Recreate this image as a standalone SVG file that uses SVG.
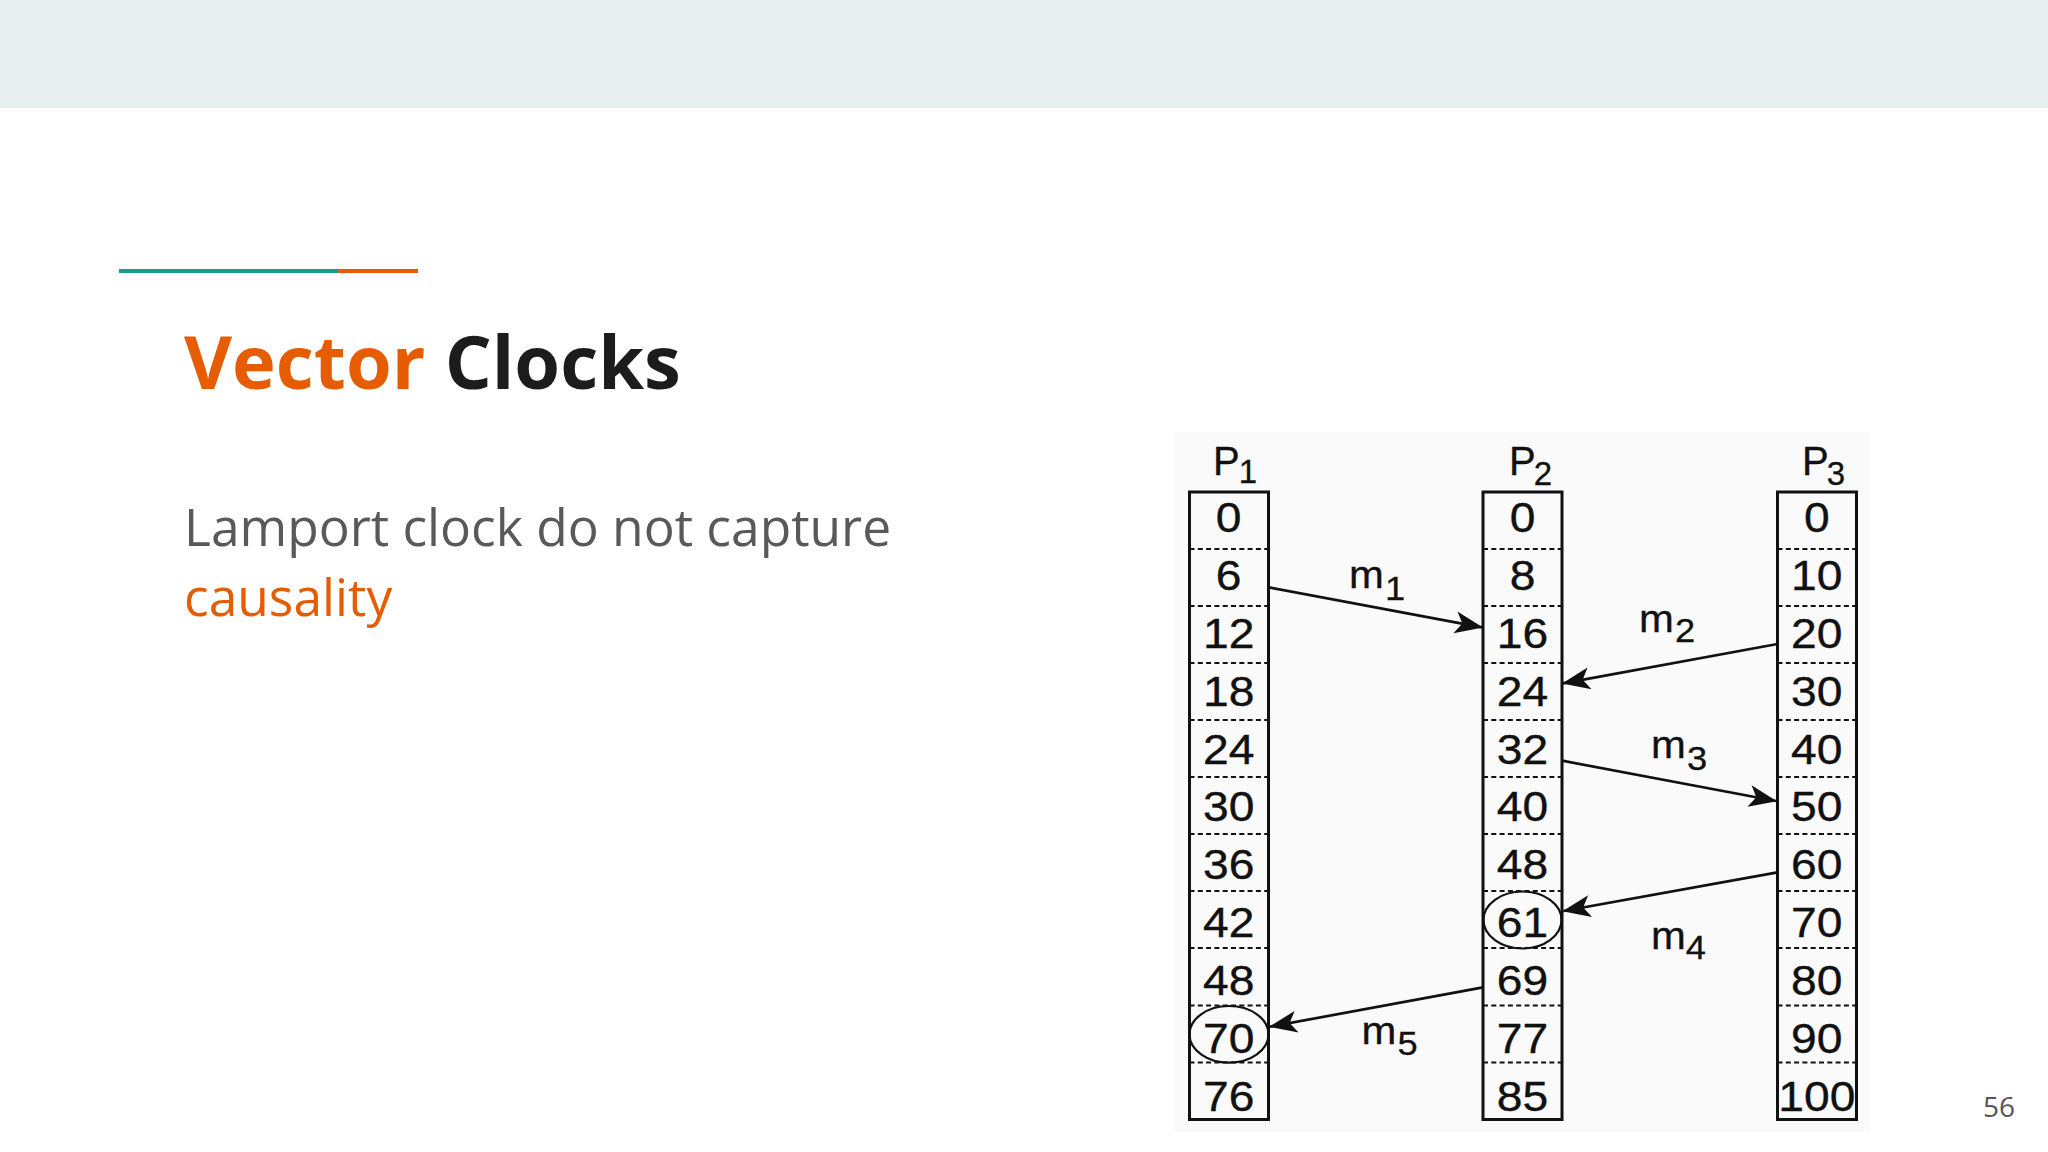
<svg xmlns="http://www.w3.org/2000/svg" width="2048" height="1152" viewBox="0 0 2048 1152">
<style>
.title{font-family:"Open Sans","Liberation Sans",sans-serif;font-weight:700;font-size:74px}
.body{font-family:"Open Sans","Liberation Sans",sans-serif;font-size:51.5px}
.num{font-family:"Liberation Sans",Arial,sans-serif;font-size:42px;fill:#111;stroke:#111;stroke-width:0.35;text-anchor:middle}
.lbl{font-family:"Liberation Sans",Arial,sans-serif;font-size:40px;fill:#111;stroke:#111;stroke-width:0.3}
.mlbl{font-family:"Liberation Sans",Arial,sans-serif;font-size:38px;fill:#111;stroke:#111;stroke-width:0.3}
.sub{font-size:33px}
.col{fill:none;stroke:#111;stroke-width:3}
.div{stroke:#111;stroke-width:2.2;stroke-dasharray:5 3.3}
.circ{fill:none;stroke:#111;stroke-width:2.2}
.msg{stroke:#111;stroke-width:2.7;fill:none;marker-end:url(#ah)}
</style>
<defs>
<marker id="ah" markerUnits="userSpaceOnUse" orient="auto" viewBox="-32 -14 34 28" refX="0" refY="0" markerWidth="34" markerHeight="28">
<path d="M1,0 L-27,-11 L-20,0 L-27,11 Z" fill="#111"/>
</marker>
</defs>
<rect x="0" y="0" width="2048" height="1152" fill="#ffffff"/>
<rect x="0" y="0" width="2048" height="108" fill="#e9eeee"/>
<g id="accent">
<rect x="119" y="269" width="219" height="4" fill="#1a9a8a"/>
<rect x="338" y="269" width="80" height="4" fill="#e65c00"/>
</g>
<text class="title" x="184" y="389"><tspan fill="#e65c00">Vector</tspan><tspan fill="#1c1c1c"> Clocks</tspan></text>
<text class="body" x="184" y="546" fill="#595959">Lamport clock do not capture</text>
<text class="body" x="184" y="616" fill="#e65c00">causality</text>
<text x="1983" y="1117" font-family="'Open Sans','Liberation Sans',sans-serif" font-size="28" fill="#555">56</text>

<rect x="1175" y="432" width="695" height="700" fill="#fafafa"/>

<g id="p1">
<rect class="col" x="1189.5" y="492" width="79" height="627.5"/>
<g>
<line class="div" x1="1189.5" y1="549" x2="1268.5" y2="549"/>
<line class="div" x1="1189.5" y1="606" x2="1268.5" y2="606"/>
<line class="div" x1="1189.5" y1="663" x2="1268.5" y2="663"/>
<line class="div" x1="1189.5" y1="720" x2="1268.5" y2="720"/>
<line class="div" x1="1189.5" y1="777" x2="1268.5" y2="777"/>
<line class="div" x1="1189.5" y1="834" x2="1268.5" y2="834"/>
<line class="div" x1="1189.5" y1="891" x2="1268.5" y2="891"/>
<line class="div" x1="1189.5" y1="948" x2="1268.5" y2="948"/>
<line class="div" x1="1189.5" y1="1005.5" x2="1268.5" y2="1005.5"/>
<line class="div" x1="1189.5" y1="1062.5" x2="1268.5" y2="1062.5"/>
</g>
<ellipse class="circ" cx="1229" cy="1034.3" rx="39.5" ry="28.3"/>
<text class="lbl" transform="matrix(1.0 0 0 1 1213 475)">P<tspan class="sub" dx="-1" dy="8">1</tspan></text>
<g transform="translate(1228.7 0) scale(1.1 1)">
<text class="num" x="0" y="532">0</text>
<text class="num" x="0" y="589.9">6</text>
<text class="num" x="0" y="647.8">12</text>
<text class="num" x="0" y="705.7">18</text>
<text class="num" x="0" y="763.6">24</text>
<text class="num" x="0" y="821.5">30</text>
<text class="num" x="0" y="879.4">36</text>
<text class="num" x="0" y="937.3">42</text>
<text class="num" x="0" y="995.2">48</text>
<text class="num" x="0" y="1053.1">70</text>
<text class="num" x="0" y="1111">76</text>
</g>
</g>

<g id="p2">
<rect class="col" x="1483" y="492" width="79" height="627.5"/>
<g>
<line class="div" x1="1483" y1="549" x2="1562" y2="549"/>
<line class="div" x1="1483" y1="606" x2="1562" y2="606"/>
<line class="div" x1="1483" y1="663" x2="1562" y2="663"/>
<line class="div" x1="1483" y1="720" x2="1562" y2="720"/>
<line class="div" x1="1483" y1="777" x2="1562" y2="777"/>
<line class="div" x1="1483" y1="834" x2="1562" y2="834"/>
<line class="div" x1="1483" y1="891" x2="1562" y2="891"/>
<line class="div" x1="1483" y1="948" x2="1562" y2="948"/>
<line class="div" x1="1483" y1="1005.5" x2="1562" y2="1005.5"/>
<line class="div" x1="1483" y1="1062.5" x2="1562" y2="1062.5"/>
</g>
<ellipse class="circ" cx="1522.5" cy="920" rx="39" ry="28.5"/>
<text class="lbl" transform="matrix(1.0 0 0 1 1509 475)">P<tspan class="sub" dx="-2" dy="10">2</tspan></text>
<g transform="translate(1522.5 0) scale(1.1 1)">
<text class="num" x="0" y="532">0</text>
<text class="num" x="0" y="589.9">8</text>
<text class="num" x="0" y="647.8">16</text>
<text class="num" x="0" y="705.7">24</text>
<text class="num" x="0" y="763.6">32</text>
<text class="num" x="0" y="821.5">40</text>
<text class="num" x="0" y="879.4">48</text>
<text class="num" x="0" y="937.3">61</text>
<text class="num" x="0" y="995.2">69</text>
<text class="num" x="0" y="1053.1">77</text>
<text class="num" x="0" y="1111">85</text>
</g>
</g>

<g id="p3">
<rect class="col" x="1777.5" y="492" width="79" height="627.5"/>
<g>
<line class="div" x1="1777.5" y1="549" x2="1856.5" y2="549"/>
<line class="div" x1="1777.5" y1="606" x2="1856.5" y2="606"/>
<line class="div" x1="1777.5" y1="663" x2="1856.5" y2="663"/>
<line class="div" x1="1777.5" y1="720" x2="1856.5" y2="720"/>
<line class="div" x1="1777.5" y1="777" x2="1856.5" y2="777"/>
<line class="div" x1="1777.5" y1="834" x2="1856.5" y2="834"/>
<line class="div" x1="1777.5" y1="891" x2="1856.5" y2="891"/>
<line class="div" x1="1777.5" y1="948" x2="1856.5" y2="948"/>
<line class="div" x1="1777.5" y1="1005.5" x2="1856.5" y2="1005.5"/>
<line class="div" x1="1777.5" y1="1062.5" x2="1856.5" y2="1062.5"/>
</g>
<text class="lbl" transform="matrix(1.0 0 0 1 1802 475)">P<tspan class="sub" dx="-2" dy="10">3</tspan></text>
<g transform="translate(1816.8 0) scale(1.1 1)">
<text class="num" x="0" y="532">0</text>
<text class="num" x="0" y="589.9">10</text>
<text class="num" x="0" y="647.8">20</text>
<text class="num" x="0" y="705.7">30</text>
<text class="num" x="0" y="763.6">40</text>
<text class="num" x="0" y="821.5">50</text>
<text class="num" x="0" y="879.4">60</text>
<text class="num" x="0" y="937.3">70</text>
<text class="num" x="0" y="995.2">80</text>
<text class="num" x="0" y="1053.1">90</text>
<text class="num" x="0" y="1111">100</text>
</g>
</g>

<g id="connectors">
<line class="msg" x1="1268.5" y1="587.3" x2="1482" y2="627.3"/>
<line class="msg" x1="1777.5" y1="644" x2="1563" y2="683.3"/>
<line class="msg" x1="1562" y1="760.7" x2="1776" y2="801"/>
<line class="msg" x1="1777.5" y1="872.3" x2="1563.5" y2="911"/>
<line class="msg" x1="1483" y1="987.3" x2="1270" y2="1026.7"/>
<text class="mlbl" transform="matrix(1.1 0 0 1 1349 588)">m<tspan class="sub" dx="1" dy="12">1</tspan></text>
<text class="mlbl" transform="matrix(1.1 0 0 1 1639 632)">m<tspan class="sub" dx="1" dy="10">2</tspan></text>
<text class="mlbl" transform="matrix(1.1 0 0 1 1651 758)">m<tspan class="sub" dx="1" dy="12">3</tspan></text>
<text class="mlbl" transform="matrix(1.1 0 0 1 1651 949)">m<tspan class="sub" dx="0" dy="10">4</tspan></text>
<text class="mlbl" transform="matrix(1.1 0 0 1 1361.5 1044)">m<tspan class="sub" dx="1" dy="11">5</tspan></text>
</g>
</svg>
